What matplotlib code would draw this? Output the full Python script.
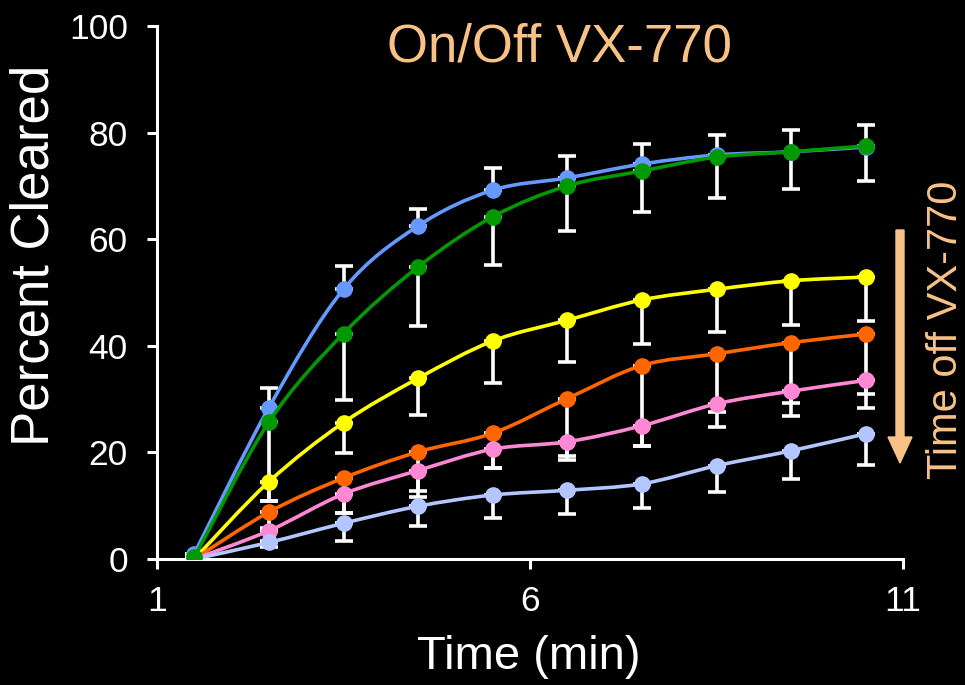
import numpy as np
import matplotlib
matplotlib.use("Agg")
import matplotlib.pyplot as plt
from matplotlib.path import Path
from matplotlib.patches import PathPatch, FancyArrow

plt.rcParams['font.family'] = ['Liberation Sans', 'DejaVu Sans']

# ---- data -------------------------------------------------------------
time_min = [1.5, 2.5, 3.5, 4.5, 5.5, 6.5, 7.5, 8.5, 9.5, 10.5]

series_names = ["on", "off_1", "off_2", "off_3", "off_4", "off_5"]
series_colors = ["#6699ff", "#009900", "#ffff00", "#ff6600", "#ff88d4", "#b4c6ff"]

on_vals    = [1.0, 28.4, 50.6, 62.5, 69.2, 71.5, 74.1, 75.8, 76.4, 77.3]
off1_vals  = [0.3, 25.7, 42.3, 54.8, 64.2, 70.0, 72.8, 75.4, 76.4, 77.5]
off2_vals  = [0.0, 14.5, 25.6, 33.9, 40.9, 44.8, 48.6, 50.6, 52.2, 52.9]
off3_vals  = [0.0, 8.8, 15.2, 20.1, 23.6, 30.1, 36.3, 38.5, 40.6, 42.2]
off4_vals  = [0.0, 5.3, 12.2, 16.6, 20.6, 22.0, 25.0, 29.1, 31.5, 33.5]
off5_vals  = [0.0, 3.1, 6.7, 9.9, 12.0, 12.9, 14.1, 17.5, 20.3, 23.5]

# error magnitudes: "on" series shows the upper bar, the others the lower bar
on_err_up     = [0.0, 3.7, 4.4, 3.1, 4.1, 4.1, 3.8, 3.8, 4.0, 4.1]
off1_err_down = [0.0, 14.8, 12.5, 11.0, 9.0, 8.4, 7.7, 7.6, 6.9, 6.6]
off2_err_down = [0.0, 3.6, 5.8, 6.8, 7.9, 7.8, 8.3, 8.1, 8.3, 8.3]
off3_err_down = [0.0, 3.0, 6.6, 8.4, 6.6, 10.8, 15.1, 11.0, 11.3, 11.2]
off4_err_down = [0.0, 2.0, 3.6, 3.8, 3.6, 3.4, 3.8, 4.4, 4.6, 5.2]
off5_err_down = [0.0, 0.8, 3.3, 3.7, 4.4, 4.5, 4.6, 4.9, 5.2, 5.9]

title_text = "On/Off VX-770"
x_label = "Time (min)"
y_label = "Percent Cleared"
arrow_label = "Time off VX-770"
x_ticks = [1, 6, 11]
y_ticks = [0, 20, 40, 60, 80, 100]

accent = "#f8c287"

values = [on_vals, off1_vals, off2_vals, off3_vals, off4_vals, off5_vals]
err_up = [on_err_up, None, None, None, None, None]
err_down = [None, off1_err_down, off2_err_down, off3_err_down, off4_err_down, off5_err_down]


def smooth_path(x, y):
    """Cubic Bezier path through the points (Catmull-Rom style smoothing)."""
    pts = np.column_stack([x, y]).astype(float)
    n = len(pts)
    verts = [pts[0]]
    codes = [Path.MOVETO]
    for i in range(n - 1):
        p0 = pts[i - 1] if i > 0 else pts[i]
        p1 = pts[i]
        p2 = pts[i + 1]
        p3 = pts[i + 2] if i + 2 < n else pts[i + 1]
        c1 = p1 + (p2 - p0) / 6.0
        c2 = p2 - (p3 - p1) / 6.0
        verts += [c1, c2, p2]
        codes += [Path.CURVE4] * 3
    return Path(verts, codes)


fig = plt.figure(figsize=(9.65, 6.85), dpi=100, facecolor="black")
ax = fig.add_axes([157 / 965, 1 - 559 / 685, (903 - 157) / 965, (559 - 26) / 685])
ax.set_facecolor("black")

# error bars underneath all series
for vals, up, down in zip(values, err_up, err_down):
    lo = down if down is not None else [0] * len(vals)
    hi = up if up is not None else [0] * len(vals)
    ax.errorbar(time_min, vals, yerr=[lo, hi], fmt="none", ecolor="white",
                elinewidth=2.6, capsize=6.5, capthick=2.6, zorder=2)

# smoothed lines and markers; the green series sits on top
draw_order = [0, 2, 3, 4, 5, 1]
for k, idx in enumerate(draw_order):
    vals = values[idx]
    col = series_colors[idx]
    patch = PathPatch(smooth_path(time_min, vals), facecolor="none",
                      edgecolor=col, lw=2.6, zorder=3 + k, capstyle="round")
    ax.add_patch(patch)
    ax.plot(time_min, vals, "o", color=col, markersize=12, markeredgewidth=0,
            zorder=3.5 + k)

ax.set_xlim(1, 11)
ax.set_ylim(0, 100)
ax.set_xticks(x_ticks)
ax.set_yticks(y_ticks)
for side in ["top", "right"]:
    ax.spines[side].set_visible(False)
for side in ["left", "bottom"]:
    ax.spines[side].set_color("white")
    ax.spines[side].set_linewidth(2.2)
ax.tick_params(colors="white", width=2.2, length=7, labelsize=25.5, direction="out")
ax.tick_params(axis="y", pad=14)
ax.tick_params(axis="x", pad=12)

fig.text(35 / 965, 1 - 255 / 685, y_label, rotation=90, color="white",
         fontsize=38, ha="center", va="center")
fig.text(529 / 965, 1 - 657 / 685, x_label, color="white",
         fontsize=34, ha="center", va="center")
fig.text(559 / 965, 1 - 62 / 685, title_text, color=accent,
         fontsize=38, ha="center", va="baseline")
fig.text(946 / 965, 1 - 330 / 685, arrow_label, rotation=90, color=accent,
         fontsize=30, ha="center", va="center")

arrow = FancyArrow(900 / 965, 1 - 230 / 685, 0, -(463 - 230) / 685,
                   width=8 / 965, head_width=24 / 965, head_length=26 / 685,
                   length_includes_head=True, color=accent,
                   transform=fig.transFigure)
fig.add_artist(arrow)

fig.savefig("out.png", dpi=100, facecolor="black")
